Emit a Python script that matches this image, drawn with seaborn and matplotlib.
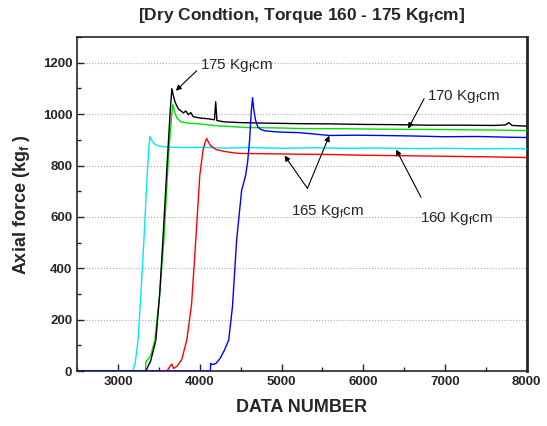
import numpy as np
import pandas as pd
import matplotlib
matplotlib.use("Agg")
import matplotlib.pyplot as plt
from matplotlib.ticker import MultipleLocator
import seaborn as sns

# data (DATA NUMBER vs axial force)
cyan_x = [2500, 3180, 3210, 3245, 3280, 3317, 3350, 3375, 3390, 3410, 3440, 3500, 3600, 3800, 4000,
          4300, 4600, 5000, 5400, 5800, 6200, 6600, 7000, 7400, 7800, 8000]
cyan_y = [0, 0, 30, 120, 300, 510, 720, 860, 913, 900, 885, 876, 872, 870, 871,
          868, 870, 867, 869, 867, 868, 866, 867, 865, 866, 865]

red_x = [2500, 3598, 3640, 3659, 3680, 3720, 3780, 3841, 3900, 3951, 4000, 4040, 4070, 4085, 4100,
         4130, 4200, 4300, 4400, 4500, 4800, 5200, 5600, 6000, 6500, 7000, 7500, 8000]
red_y = [0, 0, 20, 27, 10, 18, 45, 120, 260, 509, 760, 860, 895, 905, 895,
         878, 862, 855, 850, 847, 846, 844, 843, 840, 838, 836, 834, 831]

green_x = [2500, 3335, 3341, 3400, 3451, 3510, 3561, 3620, 3660, 3671, 3690, 3720, 3770, 3850, 3963,
           4200, 4573, 5000, 5220, 5800, 6400, 7000, 7600, 8000]
green_y = [0, 0, 35, 60, 120, 300, 509, 850, 1010, 1037, 1010, 985, 970, 965, 963,
           955, 948, 946, 944, 943, 941, 940, 938, 936]

black_x = [2500, 3340, 3400, 3463, 3510, 3549, 3600, 3640, 3659, 3675, 3700, 3740, 3800, 3830, 3860,
           3890, 3920, 4000, 4100, 4180, 4195, 4210, 4300, 4500, 4800, 5200, 5600, 6000, 6400, 6800,
           7200, 7600, 7740, 7780, 7820, 8000]
black_y = [0, 0, 40, 120, 300, 509, 800, 1020, 1099, 1075, 1045, 1020, 1005, 1012, 998,
           1006, 990, 985, 982, 978, 1048, 975, 970, 967, 965, 963, 962, 960, 959, 957,
           957, 956, 958, 967, 956, 953]

blue_x = [2500, 4130, 4134, 4160, 4200, 4250, 4300, 4354, 4400, 4451, 4512, 4560, 4585, 4610, 4630,
          4646, 4660, 4680, 4710, 4750, 4800, 4900, 5000, 5220, 5585, 5900, 6195, 6600, 7000, 7400,
          7800, 8000]
blue_y = [0, 0, 30, 25, 30, 50, 80, 120, 250, 509, 703, 760, 812, 900, 1010,
          1064, 1020, 980, 950, 940, 935, 932, 930, 928, 917, 918, 917, 915, 912, 913,
          910, 909]

series = [(cyan_x, cyan_y, "#00e8ff"), (red_x, red_y, "#ff0000"), (green_x, green_y, "#00e000"),
          (black_x, black_y, "#000000"), (blue_x, blue_y, "#0000ff")]

sns.set_style("ticks")
plt.rcParams['font.family'] = ['Liberation Sans', 'DejaVu Sans']
plt.rcParams['mathtext.fontset'] = 'custom'
plt.rcParams['mathtext.rm'] = 'Liberation Sans'
plt.rcParams['mathtext.it'] = 'Liberation Sans'
plt.rcParams['mathtext.bf'] = 'Liberation Sans:bold'

fig = plt.figure(figsize=(5.47, 4.26), dpi=100)
ax = fig.add_axes([0.141, 0.129, 0.822, 0.784])

for xs, ys, c in series:
    sns.lineplot(x=xs, y=ys, color=c, linewidth=1, ax=ax, estimator=None, sort=False, zorder=3)

ax.set_xlim(2500, 8000)
ax.set_ylim(0, 1300)
ax.xaxis.set_major_locator(MultipleLocator(1000))
ax.xaxis.set_minor_locator(MultipleLocator(500))
ax.yaxis.set_major_locator(MultipleLocator(200))
ax.yaxis.set_minor_locator(MultipleLocator(100))
ax.tick_params(which='major', direction='in', length=5, width=1, labelsize=9.5)
ax.tick_params(which='minor', direction='in', length=3, width=1)
for lab in ax.get_xticklabels() + ax.get_yticklabels():
    lab.set_fontweight('bold')
ax.yaxis.grid(True, linestyle=':', color='#aaaaaa', linewidth=0.8)
ax.set_axisbelow(True)
for s in ax.spines.values():
    s.set_linewidth(1.2)
ax.spines['right'].set_linewidth(2)

ax.set_xlabel("DATA NUMBER", fontsize=13, fontweight='bold', labelpad=8)
ax.set_ylabel(r"Axial force (kg$_\mathbf{f}$ )", fontsize=13, fontweight='bold', labelpad=8)
ax.set_title(r"[Dry Condtion, Torque 160 - 175 Kg$_\mathbf{f}$cm]", fontsize=12.5, fontweight='bold', pad=12)

arw = dict(arrowstyle='-|>', color='black', lw=0.8, mutation_scale=8, shrinkA=0, shrinkB=0)
fs = 11
ax.text(4000, 1177, r"175 Kg$_f$cm", fontsize=fs, va='baseline')
ax.annotate("", xy=(3707, 1091), xytext=(3963, 1169), arrowprops=arw)
ax.text(6780, 1056, r"170 Kg$_f$cm", fontsize=fs, va='baseline')
ax.annotate("", xy=(6550, 944), xytext=(6744, 1060), arrowprops=arw)
ax.text(5122, 606, r"165 Kg$_f$cm", fontsize=fs, va='baseline')
ax.annotate("", xy=(5037, 839), xytext=(5317, 711), arrowprops=arw)
ax.annotate("", xy=(5585, 916), xytext=(5317, 711), arrowprops=arw)
ax.text(6695, 579, r"160 Kg$_f$cm", fontsize=fs, va='baseline')
ax.annotate("", xy=(6402, 862), xytext=(6707, 676), arrowprops=arw)

fig.savefig("out.png", dpi=100)
